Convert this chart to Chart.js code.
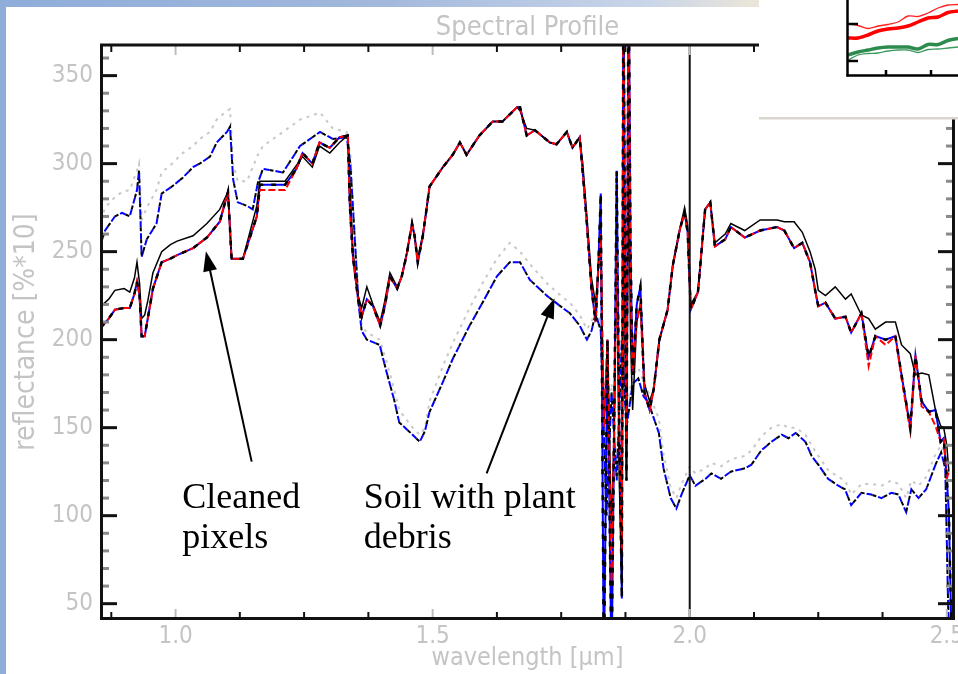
<!DOCTYPE html>
<html>
<head>
<meta charset="utf-8">
<script src="https://cdn.jsdelivr.net/npm/chart.js@4.4.1/dist/chart.umd.min.js"></script>
<style>
  html, body { margin: 0; padding: 0; background: #fff; }
  body { width: 958px; height: 674px; position: relative; overflow: hidden; }
  #stripLeft { position: absolute; left: 0; top: 0; width: 6px; height: 674px; background: #8fadd9; }
  #stripTop { position: absolute; left: 0; top: 0; width: 760px; height: 7px;
    background: linear-gradient(to right, #8fadd9 0%, #a2b8dc 50%, #c9d5e9 85%, #ece6d8 100%); }
  #chart { position: absolute; left: 0; top: 0; }
  #inset { position: absolute; left: 846px; top: 0; }
</style>
</head>
<body>
<div id="stripLeft"></div>
<div id="stripTop"></div>
<canvas id="chart" width="958" height="674"></canvas>
<canvas id="inset" width="112" height="77"></canvas>
<script>
// wavelength grid of the cleaned pixel spectra [um]
const cleanWl = [
  0.855, 0.870, 0.882, 0.900, 0.911, 0.920, 0.925, 0.930, 0.934, 0.940,
  0.946, 0.956, 0.973, 0.990, 1.003, 1.034, 1.061, 1.086, 1.102, 1.109,
  1.131, 1.158, 1.164, 1.190, 1.213, 1.235, 1.247, 1.266, 1.280, 1.300,
  1.319, 1.335, 1.339, 1.345, 1.355, 1.362, 1.372, 1.384, 1.398, 1.407,
  1.417, 1.431, 1.440, 1.450, 1.460, 1.465, 1.471, 1.481, 1.489, 1.494,
  1.520, 1.539, 1.553, 1.566, 1.591, 1.617, 1.636, 1.664, 1.670, 1.683,
  1.699, 1.728, 1.741, 1.761, 1.772, 1.786, 1.792, 1.800, 1.809, 1.817,
  1.822, 1.827, 1.833, 1.840, 1.848, 1.853, 1.858, 1.863, 1.868, 1.871,
  1.875, 1.877, 1.881, 1.885, 1.889, 1.897, 1.904, 1.912, 1.922, 1.930,
  1.941, 1.957, 1.967, 1.981, 1.990, 1.996, 2.002, 2.016, 2.030, 2.040,
  2.049, 2.069, 2.080, 2.107, 2.137, 2.170, 2.184, 2.203, 2.219, 2.234,
  2.244, 2.250, 2.264, 2.283, 2.303, 2.314, 2.334, 2.348, 2.361, 2.381,
  2.400, 2.412, 2.429, 2.439, 2.451, 2.465, 2.478, 2.488, 2.494, 2.500,
  2.504, 2.510
];
const cleanRed = [
  207, 212, 217, 218, 218, 226, 233, 225, 202, 202,
  212, 229, 244, 246, 248, 252, 258, 267, 284, 246,
  246, 270, 285, 285, 285, 297, 306, 300, 312, 309,
  315, 316, 276, 247, 223, 213, 223, 219, 208, 219,
  236, 229, 236, 249, 266, 259, 244, 259, 276, 287,
  298, 305, 312, 305, 316, 324, 324, 332, 332, 316,
  319, 312, 311, 318, 309, 315, 295, 266, 229, 210,
  240, 260, 150, 200, 60, 150, 250, 150, 80, 420,
  200, 140, 420, 230, 180, 210, 220, 170, 160, 172,
  200, 217, 242, 263, 272, 261, 217, 227, 274, 278,
  253, 257, 264, 258, 262, 264, 262, 252, 255, 244,
  228, 219, 221, 212, 213, 204, 215, 185, 202, 197,
  202, 178, 148, 191, 162, 159, 151, 142, 144, 121,
  125, null
];
const cleanBlue = [
  207, 212, 217, 218, 218, 226, 233, 225, 202, 202,
  212, 229, 244, 246, 248, 252, 258, 267, 284, 246,
  246, 270, 288, 288, 288, 297, 306, 300, 312, 309,
  315, 316, 276, 247, 223, 213, 223, 219, 208, 219,
  236, 229, 236, 249, 266, 259, 244, 259, 276, 287,
  298, 305, 312, 305, 316, 324, 324, 332, 332, 316,
  319, 312, 311, 318, 309, 315, 295, 266, 229, 210,
  240, 283, 10, 200, 10, 150, 296, 150, 53, 420,
  200, 120, 420, 250, 180, 220, 230, 170, 160, 172,
  200, 217, 242, 263, 272, 261, 217, 227, 274, 278,
  253, 257, 264, 258, 262, 264, 262, 252, 255, 244,
  228, 219, 221, 212, 213, 204, 215, 190, 202, 200,
  202, 180, 150, 191, 165, 159, 160, 142, 144, 121,
  102, 20
];
const cleanBlack = [
  219, 223, 228, 229, 227, 235, 244, 232, 212, 214,
  222, 238, 250, 254, 256, 259, 266, 274, 284, 246,
  246, 276, 290, 290, 290, 299, 304, 298, 310, 306,
  312, 316, 290, 250, 225, 218, 230, 220, 210, 222,
  238, 230, 236, 250, 266, 258, 246, 260, 276, 287,
  298, 305, 312, 305, 316, 324, 324, 332, 330, 320,
  319, 312, 311, 318, 309, 315, 300, 270, 235, 220,
  240, 260, 150, 200, 90, 150, 250, 120, 60, 300,
  180, 120, 300, 200, 160, 210, 220, 175, 165, 172,
  200, 217, 242, 263, 275, 265, 220, 227, 274, 278,
  255, 260, 266, 262, 268, 268, 267, 267, 261, 250,
  240, 228, 225, 230, 223, 226, 214, 212, 206, 210,
  210, 197, 192, 180, 181, 180, 160, 151, 150, 140,
  125, null
];

// soil with plant debris
const soilWl = [
  0.855, 0.863, 0.882, 0.896, 0.911, 0.925, 0.929, 0.934, 0.944, 0.963,
  0.973, 0.993, 1.014, 1.034, 1.047, 1.067, 1.080, 1.100, 1.106, 1.112,
  1.121, 1.139, 1.150, 1.160, 1.170, 1.209, 1.242, 1.281, 1.306, 1.333,
  1.340, 1.348, 1.356, 1.362, 1.372, 1.397, 1.410, 1.425, 1.435, 1.461,
  1.475, 1.485, 1.494, 1.520, 1.539, 1.572, 1.597, 1.625, 1.650, 1.670,
  1.689, 1.722, 1.753, 1.767, 1.786, 1.800, 1.809, 1.817, 1.827, 1.838,
  1.848, 1.858, 1.868, 1.877, 1.889, 1.900, 1.910, 1.920, 1.940, 1.949,
  1.963, 1.974, 1.984, 2.000, 2.011, 2.031, 2.042, 2.061, 2.080, 2.108,
  2.120, 2.139, 2.159, 2.179, 2.192, 2.206, 2.225, 2.237, 2.250, 2.269,
  2.289, 2.302, 2.314, 2.334, 2.353, 2.373, 2.392, 2.406, 2.421, 2.431,
  2.445, 2.460, 2.478, 2.489, 2.497, 2.499, 2.503, 2.510
];
const soilBlue = [
  255, 262, 270, 272, 270, 285, 296, 247, 257, 266,
  283, 287, 292, 298, 300, 304, 312, 318, 321, 291,
  278, 276, 274, 289, 297, 295, 310, 318, 314, 315,
  300, 260, 220, 205, 200, 197, 182, 166, 153, 146,
  142, 148, 159, 176, 189, 208, 221, 236, 244, 244,
  234, 225, 218, 215, 208, 200, 205, 215, 205, 100,
  170, 120, 200, 150, 175, 178, 168, 164, 147, 127,
  110, 104, 112, 123, 117, 121, 124, 121, 125, 127,
  129, 137, 142, 146, 144, 147, 142, 134, 129, 121,
  117, 115, 106, 113, 112, 110, 113, 112, 102, 115,
  110, 115, 129, 136, 127, 100, 43, 20
];
const soilGrey = [
  268, 275, 281, 284, 285, 296, 300, 268, 275, 285,
  295, 300, 306, 310, 314, 318, 325, 330, 331, 300,
  290, 290, 298, 305, 310, 318, 325, 329, 320, 318,
  305, 265, 225, 208, 204, 200, 188, 172, 160, 150,
  146, 150, 165, 185, 198, 218, 232, 246, 255, 250,
  243, 232, 224, 221, 214, 206, 210, 218, 210, 110,
  175, 130, 205, 160, 180, 184, 176, 170, 155, 135,
  116, 110, 118, 128, 124, 127, 130, 128, 132, 134,
  137, 145, 150, 152, 150, 150, 146, 140, 134, 126,
  122, 120, 112, 118, 118, 117, 120, 118, 110, 120,
  117, 122, 135, 140, 135, 110, 60, 30
];

const xTickValues = [1.0, 1.5, 2.0, 2.5];
const yTickValues = [50, 100, 150, 200, 250, 300, 350];
const markerWl = 2.0;

// small inset in the corner (band offset, relative level)
const insetX = [0, 10, 20, 30, 40, 50, 60, 70, 80, 90, 100, 110];
const insetRedThin = [51, 49.5, 46.5, 49, 50.5, 53, 59, 58.5, 62, 67, 70, 70.5];
const insetRedThick = [37, 37, 40, 44, 46, 47, 49, 53, 57, 58, 62.5, 64];
const insetGreenThick = [20, 23, 25, 27, 28, 28, 28, 26, 30.5, 30.5, 34.5, 36.5];
const insetGreenThin = [15, 20, 21.5, 22, 24, 25, 25, 22.5, 25.5, 26, 27, 28];

// labels and arrows, in data units (wavelength, reflectance)
const labels = [
  { text: "Cleaned", wl: 1.013, r: 104.6 },
  { text: "pixels", wl: 1.013, r: 81.4 },
  { text: "Soil with plant", wl: 1.366, r: 104.6 },
  { text: "debris", wl: 1.366, r: 81.4 }
];
const arrows = [
  { fromWl: 1.148, fromR: 130.7, toWl: 1.059, toR: 250.2 },
  { fromWl: 1.605, fromR: 124.0, toWl: 1.737, toR: 223.5 }
];

const pts = (xs, ys) => xs.map((x, i) => ({ x: x, y: ys[i] }));
const greyFont = '"DejaVu Sans Condensed", "DejaVu Sans", sans-serif';
const grey = "#c4c4c4";

function seg(ctx, x0, y0, x1, y1) {
  ctx.beginPath();
  ctx.moveTo(x0, y0);
  ctx.lineTo(x1, y1);
  ctx.stroke();
}

function arrow(ctx, x0, y0, x1, y1) {
  const a = Math.atan2(y1 - y0, x1 - x0);
  const c = Math.cos(a), s = Math.sin(a);
  seg(ctx, x0, y0, x1 - 14 * c, y1 - 14 * s);
  ctx.beginPath();
  ctx.moveTo(x1, y1);
  ctx.lineTo(x1 - 20 * c + 7 * s, y1 - 20 * s - 7 * c);
  ctx.lineTo(x1 - 20 * c - 7 * s, y1 - 20 * s + 7 * c);
  ctx.closePath();
  ctx.fill();
}

const framePlugin = {
  id: "frame",
  afterDraw(chart) {
    const ctx = chart.ctx;
    const xs = chart.scales.x, ys = chart.scales.y;
    const { left, right, top, bottom } = chart.chartArea;
    ctx.save();

    // vertical marker
    const xm = xs.getPixelForValue(markerWl);
    ctx.strokeStyle = "#111";
    ctx.lineWidth = 2;
    seg(ctx, xm, top, xm, bottom);

    // tick marks, pointing inwards
    ctx.lineWidth = 2;
    for (let v = 0.875; v < 2.51; v += 0.125) {
      const px = xs.getPixelForValue(v);
      const major = Math.abs(v * 2 - Math.round(v * 2)) < 1e-6;
      const len = major ? 10 : 7;
      ctx.strokeStyle = major ? "#bdbdbd" : "#111";
      seg(ctx, px, bottom, px, bottom - len);
      seg(ctx, px, top, px, top + len);
    }
    ctx.lineWidth = 3;
    for (let v = 50; v <= 360; v += 10) {
      const py = ys.getPixelForValue(v);
      const major = v % 50 === 0;
      const len = major ? 16 : 8;
      ctx.strokeStyle = major ? "#111" : "#8a8a8a";
      seg(ctx, left, py, left + len, py);
      seg(ctx, right, py, right - len, py);
    }

    // axes box
    ctx.strokeStyle = "#111";
    ctx.lineWidth = 3;
    seg(ctx, left + 0.5, top - 1, left + 0.5, bottom + 1);
    seg(ctx, left - 1, bottom - 0.5, right + 1, bottom - 0.5);
    seg(ctx, left - 1, top, right + 1, top);
    seg(ctx, right - 0.5, top - 1, right - 0.5, bottom + 1);

    // pasted picture covering the top right corner
    ctx.fillStyle = "#fff";
    ctx.fillRect(759, 0, 199, 117);
    ctx.fillStyle = "#dad6cf";
    ctx.fillRect(759, 117, 199, 2.5);

    // annotations
    ctx.fillStyle = "#000";
    ctx.strokeStyle = "#000";
    ctx.lineWidth = 2;
    arrows.forEach(a => {
      arrow(ctx, xs.getPixelForValue(a.fromWl), ys.getPixelForValue(a.fromR),
        xs.getPixelForValue(a.toWl), ys.getPixelForValue(a.toR));
    });
    ctx.font = '36px "Liberation Serif", "Times New Roman", serif';
    ctx.textBaseline = "alphabetic";
    ctx.textAlign = "left";
    labels.forEach(l => {
      ctx.fillText(l.text, xs.getPixelForValue(l.wl), ys.getPixelForValue(l.r));
    });
    ctx.restore();
  }
};

new Chart(document.getElementById("chart").getContext("2d"), {
  type: "line",
  data: {
    datasets: [
      { data: pts(cleanWl, cleanBlue), borderColor: "#000", borderWidth: 2.5, borderDash: [5, 8] },
      { data: pts(cleanWl, cleanRed), borderColor: "#ff0000", borderWidth: 2, borderDash: [7, 3] },
      { data: pts(cleanWl, cleanBlack), borderColor: "#000", borderWidth: 1.5 },
      { data: pts(cleanWl, cleanBlue), borderColor: "#0000ff", borderWidth: 2 },
      { data: pts(soilWl, soilBlue), borderColor: "#000", borderWidth: 2, borderDash: [4, 8], borderDashOffset: 6 },
      { data: pts(soilWl, soilBlue), borderColor: "#0000ff", borderWidth: 2, borderDash: [6, 6] },
      { data: pts(soilWl, soilGrey), borderColor: "#c8c8c8", borderWidth: 2, borderDash: [3, 5] }
    ]
  },
  options: {
    responsive: false,
    animation: false,
    devicePixelRatio: 1,
    events: [],
    layout: { padding: { top: 0, right: 4, bottom: 0, left: 0 } },
    elements: {
      point: { radius: 0 },
      line: { tension: 0, fill: false }
    },
    datasets: { line: { clip: 0, spanGaps: false } },
    plugins: {
      legend: { display: false },
      tooltip: { enabled: false },
      title: {
        display: true,
        text: "Spectral Profile",
        fullSize: false,
        color: grey,
        font: { family: greyFont, size: 27, weight: "normal", lineHeight: 1 },
        padding: { top: 14, bottom: 4 }
      }
    },
    scales: {
      x: {
        type: "linear",
        min: 0.855,
        max: 2.514,
        grid: { display: false, drawTicks: false },
        border: { display: false },
        afterBuildTicks: s => { s.ticks = xTickValues.map(v => ({ value: v })); },
        afterFit: s => { s.height = 55; s.paddingLeft = 0; s.paddingRight = 0; },
        ticks: {
          autoSkip: false,
          maxRotation: 0,
          color: grey,
          padding: 3,
          font: { family: greyFont, size: 24 },
          callback: v => v.toFixed(1)
        },
        title: {
          display: true,
          text: "wavelength [μm]",
          color: grey,
          font: { family: greyFont, size: 25 },
          padding: { top: 0, bottom: 1 }
        }
      },
      y: {
        min: 41.3,
        max: 367.4,
        grid: { display: false, drawTicks: false },
        border: { display: false },
        afterBuildTicks: s => { s.ticks = yTickValues.map(v => ({ value: v })); },
        afterFit: s => { s.width = 101; s.paddingTop = 0; s.paddingBottom = 0; },
        ticks: {
          color: grey,
          padding: 8,
          font: { family: greyFont, size: 24 },
          callback: v => String(v)
        },
        title: {
          display: true,
          text: "reflectance [%*10]",
          color: grey,
          font: { family: greyFont, size: 28 },
          padding: { top: 10, bottom: 0 }
        }
      }
    }
  },
  plugins: [framePlugin]
});

// inset picture
const insetAxes = {
  id: "insetAxes",
  afterDraw(chart) {
    const ctx = chart.ctx;
    const xs = chart.scales.x, ys = chart.scales.y;
    const { left, right, bottom } = chart.chartArea;
    ctx.save();
    ctx.strokeStyle = "#000";
    ctx.lineWidth = 2.5;
    seg(ctx, left - 0.5, 0, left - 0.5, bottom + 1.5);
    seg(ctx, left - 1.5, bottom + 0.5, right, bottom + 0.5);
    [14, 51].forEach(v => {
      const py = ys.getPixelForValue(v);
      seg(ctx, left, py, left + 10, py);
    });
    [38, 83].forEach(v => {
      const px = xs.getPixelForValue(v);
      seg(ctx, px, bottom, px, bottom - 5);
    });
    ctx.restore();
  }
};

new Chart(document.getElementById("inset").getContext("2d"), {
  type: "line",
  data: {
    datasets: [
      { data: pts(insetX, insetRedThin), borderColor: "#ff2020", borderWidth: 1.3 },
      { data: pts(insetX, insetRedThick), borderColor: "#ff0000", borderWidth: 3.5 },
      { data: pts(insetX, insetGreenThin), borderColor: "#3f9a62", borderWidth: 1.3 },
      { data: pts(insetX, insetGreenThick), borderColor: "#2e8b4e", borderWidth: 3.5 }
    ]
  },
  options: {
    responsive: false,
    animation: false,
    devicePixelRatio: 1,
    events: [],
    layout: { padding: { top: 0, right: 0, bottom: 2, left: 2 } },
    elements: { point: { radius: 0 }, line: { tension: 0.3 } },
    plugins: { legend: { display: false }, tooltip: { enabled: false } },
    scales: {
      x: { type: "linear", min: 0, max: 110, display: false },
      y: { min: 0, max: 75, display: false }
    }
  },
  plugins: [insetAxes]
});
</script>
</body>
</html>
